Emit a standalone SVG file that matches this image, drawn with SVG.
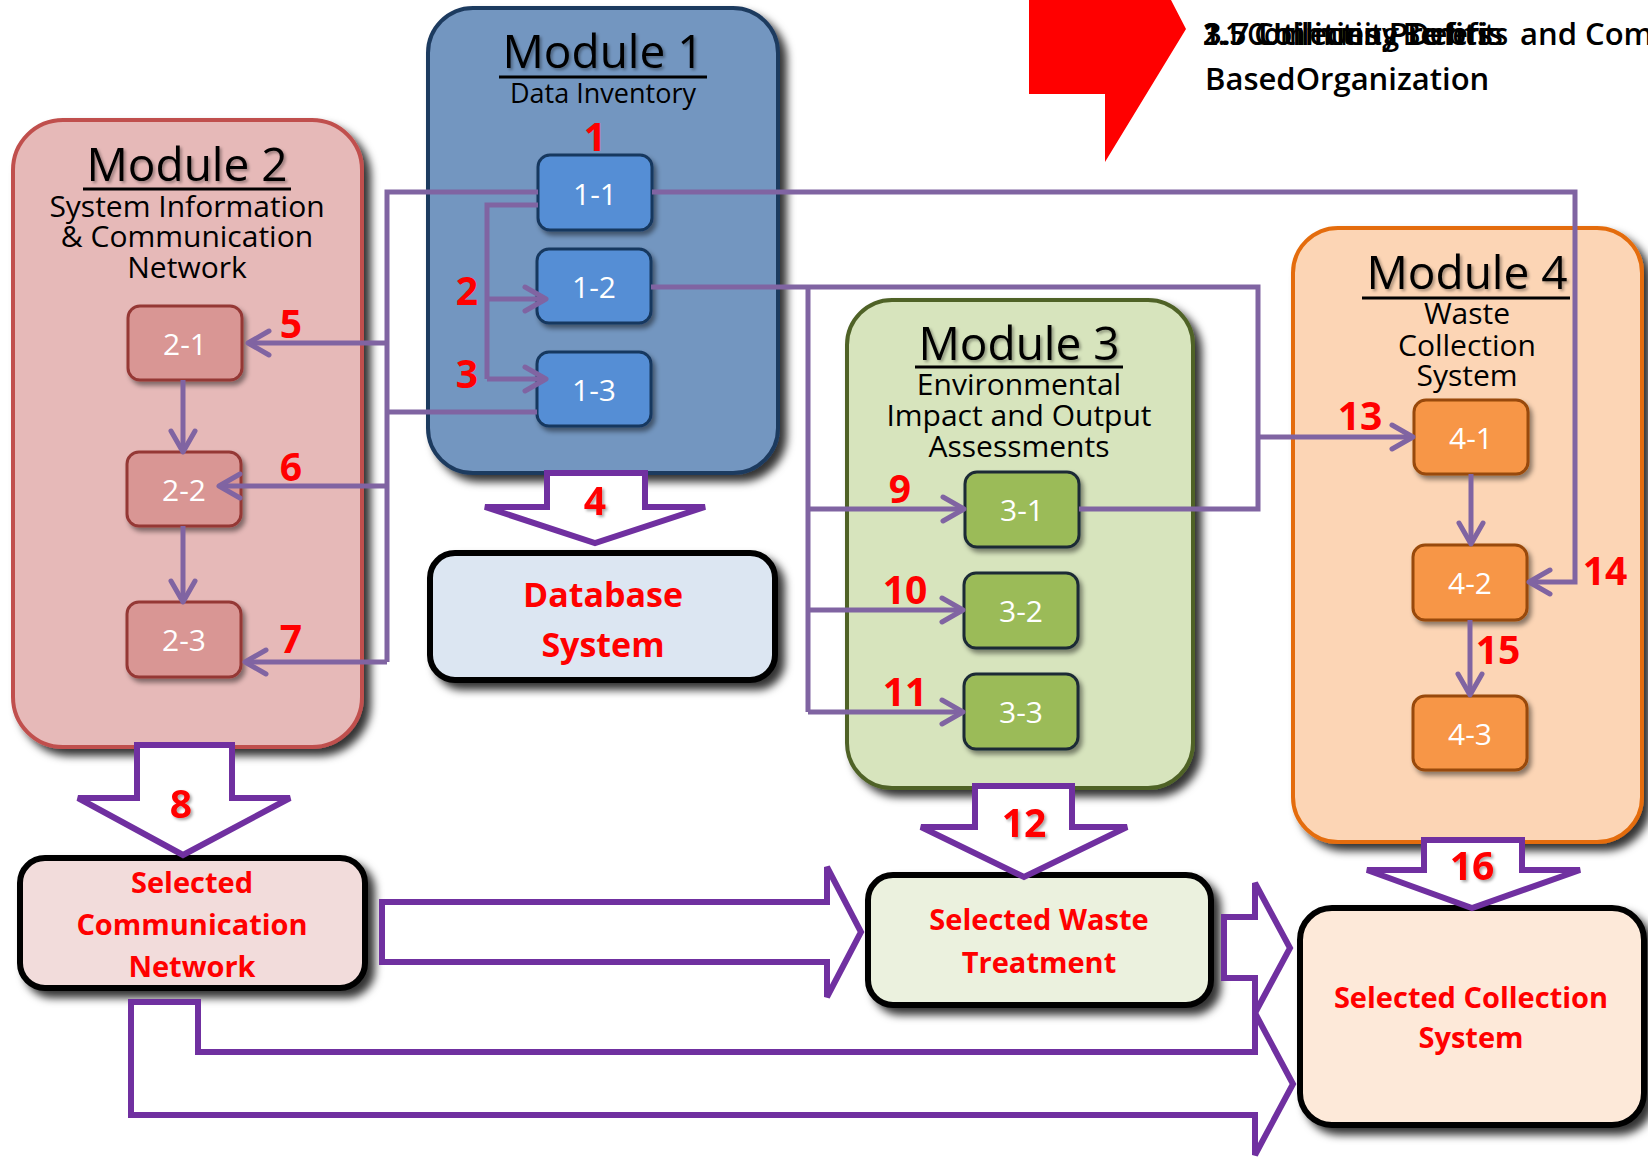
<svg xmlns="http://www.w3.org/2000/svg" width="1648" height="1158" viewBox="0 0 1648 1158">
<defs>
<style>
text{font-family:'Open Sans','Noto Sans','DejaVu Sans',sans-serif}
.title{font-size:46px;fill:#000;text-anchor:middle}
.sub{font-size:30px;fill:#000;text-anchor:middle}
.node{font-size:30px;fill:#fff;text-anchor:middle}
.num{font-size:39px;font-weight:700;fill:#FF0000;text-anchor:middle}
.res{font-size:29px;font-weight:700;fill:#FF0000;text-anchor:middle}
.ul{stroke:#000;stroke-width:3}
.mod{stroke-width:4}
.sm{stroke-width:3}
.resbox{stroke:#000;stroke-width:6}
.con{fill:none;stroke:#8064A2;stroke-width:5}
.arr{marker-end:url(#ah)}
.big{fill:#fff;stroke:#7030A0;stroke-width:6;stroke-linejoin:miter}
.top{font-size:31px;font-weight:600;fill:#000}
</style>
<filter id="sh" x="-10%" y="-10%" width="130%" height="130%"><feDropShadow dx="7" dy="7" stdDeviation="4" flood-color="#000" flood-opacity="0.8"/></filter>
<filter id="shs" x="-20%" y="-20%" width="150%" height="150%"><feDropShadow dx="3" dy="4" stdDeviation="2.5" flood-color="#000" flood-opacity="0.45"/></filter>
<filter id="ts" x="-10%" y="-20%" width="130%" height="150%"><feDropShadow dx="2" dy="2" stdDeviation="1.5" flood-color="#000" flood-opacity="0.35"/></filter>
<marker id="ah" markerUnits="userSpaceOnUse" markerWidth="32" markerHeight="32" viewBox="-3 -3 32 32" refX="24" refY="13" orient="auto" overflow="visible"><path d="M3,1 L24,13 L3,25" fill="none" stroke="#8064A2" stroke-width="5" stroke-linecap="round" stroke-linejoin="round"/></marker>
</defs>
<rect width="1648" height="1158" fill="#fff"/>

<g id="banner">
<polygon points="1029,0 1171,0 1186,29 1105,162 1105,94 1029,94" fill="#FF0000"/>
<text class="top" x="1203" y="45" textLength="300" lengthAdjust="spacingAndGlyphs">1.5 Collecting Debris</text>
<text class="top" x="1203" y="45" textLength="290" lengthAdjust="spacingAndGlyphs">3.7 Utilities Profits</text>
<text class="top" x="1203" y="45" textLength="305" lengthAdjust="spacingAndGlyphs">2.1 Community Benefits</text>
<text class="top" x="1520" y="45">and Com</text>
<text class="top" x="1205" y="90">BasedOrganization</text>
</g>

<g id="module2">
<rect class="mod" x="13" y="120" width="349" height="627" rx="50" fill="#E6B9B8" stroke="#C0504D" filter="url(#sh)"/>
<text class="title" x="187" y="181" filter="url(#ts)">Module 2</text>
<line class="ul" x1="83" y1="189" x2="291" y2="189"/>
<text class="sub" x="187" y="217">System Information</text>
<text class="sub" x="187" y="247">&amp; Communication</text>
<text class="sub" x="187" y="278">Network</text>
</g>

<g id="module1">
<rect class="mod" x="428" y="8" width="350" height="465" rx="45" fill="#7396C0" stroke="#1F3A5F" filter="url(#sh)"/>
<text class="title" x="603" y="68" filter="url(#ts)">Module 1</text>
<line class="ul" x1="499" y1="77" x2="707" y2="77"/>
<text class="sub" x="603" y="103" style="font-size:27px">Data Inventory</text>
</g>

<g id="module3">
<rect class="mod" x="847" y="300" width="346" height="488" rx="45" fill="#D7E4BD" stroke="#4F6228" filter="url(#sh)"/>
<text class="title" x="1019" y="360" filter="url(#ts)">Module 3</text>
<line class="ul" x1="915" y1="367" x2="1123" y2="367"/>
<text class="sub" x="1019" y="395">Environmental</text>
<text class="sub" x="1019" y="426">Impact and Output</text>
<text class="sub" x="1019" y="457">Assessments</text>
</g>

<g id="module4">
<rect class="mod" x="1293" y="228" width="349" height="614" rx="45" fill="#FCD5B5" stroke="#E46C0A" filter="url(#sh)"/>
<text class="title" x="1467" y="289" filter="url(#ts)">Module 4</text>
<line class="ul" x1="1362" y1="298" x2="1570" y2="298"/>
<text class="sub" x="1467" y="324">Waste</text>
<text class="sub" x="1467" y="356">Collection</text>
<text class="sub" x="1467" y="386">System</text>
</g>

<g id="database">
<rect class="resbox" x="430" y="553" width="345" height="127" rx="25" fill="#DCE6F2" filter="url(#sh)"/>
<text class="res" x="603" y="607" style="font-size:34px">Database</text>
<text class="res" x="603" y="657" style="font-size:34px">System</text>
</g>

<g id="sel-comm">
<rect class="resbox" x="20" y="858" width="345" height="130" rx="25" fill="#F2DCDB" filter="url(#sh)"/>
<text class="res" x="192" y="893">Selected</text>
<text class="res" x="192" y="935">Communication</text>
<text class="res" x="192" y="977">Network</text>
</g>

<g id="sel-waste">
<rect class="resbox" x="868" y="875" width="343" height="130" rx="25" fill="#EBF1DE" filter="url(#sh)"/>
<text class="res" x="1039" y="930">Selected Waste</text>
<text class="res" x="1039" y="973">Treatment</text>
</g>

<g id="sel-coll">
<rect class="resbox" x="1300" y="908" width="344" height="217" rx="32" fill="#FDE9D9" filter="url(#sh)"/>
<text class="res" x="1471" y="1008">Selected Collection</text>
<text class="res" x="1471" y="1048">System</text>
</g>

<g id="n1-1"><rect class="sm" x="538" y="155" width="114" height="75" rx="12" fill="#558ED5" stroke="#17375E" filter="url(#shs)"/><text class="node" x="595" y="205">1-1</text></g>
<g id="n1-2"><rect class="sm" x="537" y="249" width="114" height="74" rx="12" fill="#558ED5" stroke="#17375E" filter="url(#shs)"/><text class="node" x="594" y="298">1-2</text></g>
<g id="n1-3"><rect class="sm" x="537" y="352" width="114" height="74" rx="12" fill="#558ED5" stroke="#17375E" filter="url(#shs)"/><text class="node" x="594" y="401">1-3</text></g>

<g id="n2-1"><rect class="sm" x="128" y="306" width="114" height="74" rx="12" fill="#D99694" stroke="#953735" filter="url(#shs)"/><text class="node" x="185" y="355">2-1</text></g>
<g id="n2-2"><rect class="sm" x="127" y="452" width="114" height="74" rx="12" fill="#D99694" stroke="#953735" filter="url(#shs)"/><text class="node" x="184" y="501">2-2</text></g>
<g id="n2-3"><rect class="sm" x="127" y="602" width="114" height="75" rx="12" fill="#D99694" stroke="#953735" filter="url(#shs)"/><text class="node" x="184" y="651">2-3</text></g>

<g id="n3-1"><rect class="sm" x="965" y="472" width="114" height="75" rx="12" fill="#9BBB59" stroke="#1C2B36" filter="url(#shs)"/><text class="node" x="1022" y="521">3-1</text></g>
<g id="n3-2"><rect class="sm" x="964" y="573" width="114" height="75" rx="12" fill="#9BBB59" stroke="#1C2B36" filter="url(#shs)"/><text class="node" x="1021" y="622">3-2</text></g>
<g id="n3-3"><rect class="sm" x="964" y="674" width="114" height="75" rx="12" fill="#9BBB59" stroke="#1C2B36" filter="url(#shs)"/><text class="node" x="1021" y="723">3-3</text></g>

<g id="n4-1"><rect class="sm" x="1414" y="400" width="114" height="74" rx="12" fill="#F79646" stroke="#984807" filter="url(#shs)"/><text class="node" x="1471" y="449">4-1</text></g>
<g id="n4-2"><rect class="sm" x="1413" y="545" width="114" height="75" rx="12" fill="#F79646" stroke="#984807" filter="url(#shs)"/><text class="node" x="1470" y="594">4-2</text></g>
<g id="n4-3"><rect class="sm" x="1413" y="696" width="114" height="74" rx="12" fill="#F79646" stroke="#984807" filter="url(#shs)"/><text class="node" x="1470" y="745">4-3</text></g>

<g id="connectors">
<path class="con" d="M538,192 H387 V662"/>
<path class="con arr" d="M387,343 H248"/>
<path class="con arr" d="M387,486 H219"/>
<path class="con arr" d="M387,662 H245"/>
<path class="con" d="M537,412 H387"/>
<path class="con" d="M538,205 H487 V379"/>
<path class="con arr" d="M487,299 H546"/>
<path class="con arr" d="M487,379 H546"/>
<path class="con arr" d="M652,192 H1575 V582 H1529"/>
<path class="con" d="M651,287 H1258 V509 H1079"/>
<path class="con" d="M808,287 V712"/>
<path class="con arr" d="M808,509 H964"/>
<path class="con arr" d="M808,610 H963"/>
<path class="con arr" d="M808,712 H963"/>
<path class="con arr" d="M1258,437 H1413"/>
<path class="con arr" d="M183,380 V452"/>
<path class="con arr" d="M183,526 V602"/>
<path class="con arr" d="M1471,474 V544"/>
<path class="con arr" d="M1470,620 V695"/>

<polygon class="big" points="547,473 645,473 645,507 705,507 595,543 485,507 547,507"/>
<polygon class="big" points="137,745 232,745 232,798 290,798 183,855 78,798 137,798"/>
<polygon class="big" points="975,786 1072,786 1072,827 1127,827 1024,877 921,827 975,827"/>
<polygon class="big" points="1424,840 1522,840 1522,870 1580,870 1472,908 1367,870 1424,870"/>
<polygon class="big" points="382,902 827,902 827,867 861,932 827,997 827,962 382,962"/>
<polygon class="big" points="131,1002 198,1002 198,1052 1255,1052 1255,1013 1293,1084 1255,1155 1255,1115 131,1115"/>
<polygon class="big" points="1224,917 1255,917 1255,883 1290,948 1255,1013 1255,978 1224,978"/>

<text class="num" x="595" y="151">1</text>
<text class="num" x="467" y="305">2</text>
<text class="num" x="467" y="388">3</text>
<text class="num" x="595" y="515" filter="url(#ts)">4</text>
<text class="num" x="291" y="338">5</text>
<text class="num" x="291" y="481">6</text>
<text class="num" x="291" y="653">7</text>
<text class="num" x="181" y="818" filter="url(#ts)">8</text>
<text class="num" x="900" y="503">9</text>
<text class="num" x="905" y="604">10</text>
<text class="num" x="905" y="706">11</text>
<text class="num" x="1024" y="837" filter="url(#ts)">12</text>
<text class="num" x="1360" y="430">13</text>
<text class="num" x="1605" y="585">14</text>
<text class="num" x="1498" y="664">15</text>
<text class="num" x="1472" y="880" filter="url(#ts)">16</text>
</g>
</svg>
